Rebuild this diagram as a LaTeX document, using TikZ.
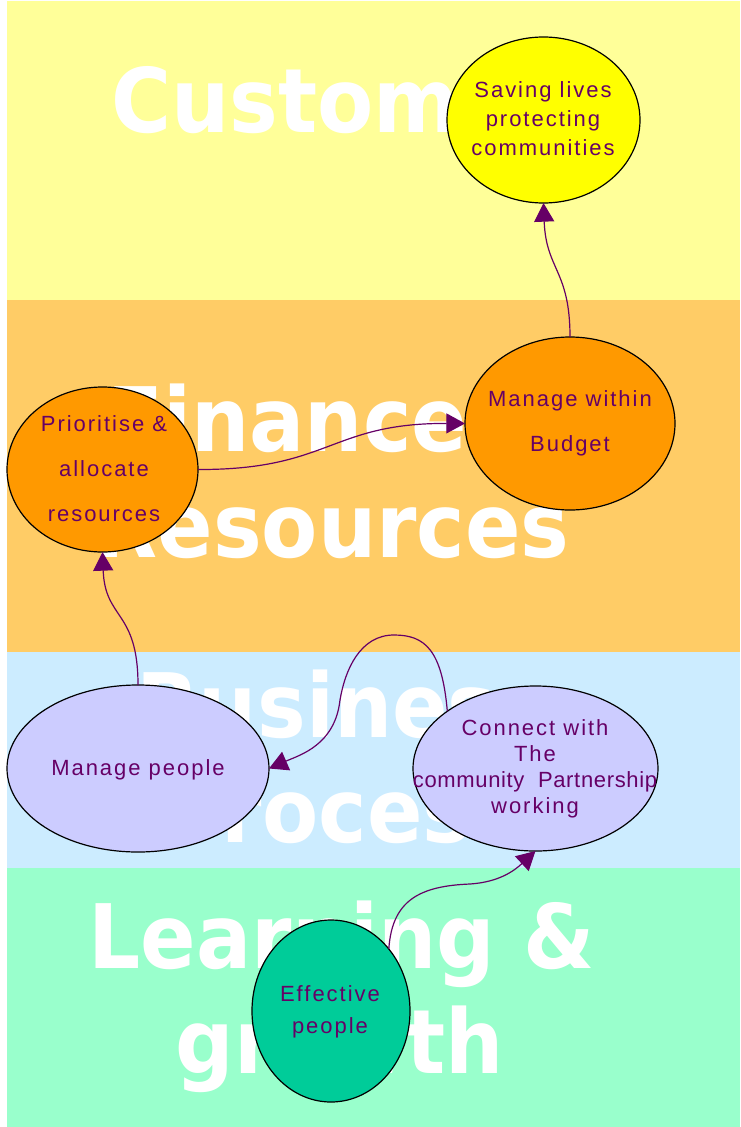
\documentclass[tikz,border=0pt]{standalone}
\usepackage{fontspec}
\usetikzlibrary{shapes.geometric,arrows.meta}
\newfontfamily\bigfont[FakeStretch=0.92]{DejaVu Sans}
\newfontfamily\smfont[LetterSpace=9]{Liberation Sans}
\definecolor{bandY}{HTML}{FFFF99}
\definecolor{bandO}{HTML}{FFCC66}
\definecolor{bandB}{HTML}{CCECFF}
\definecolor{bandG}{HTML}{99FFCC}
\definecolor{fillY}{HTML}{FFFF00}
\definecolor{fillO}{HTML}{FF9900}
\definecolor{fillB}{HTML}{CCCCFF}
\definecolor{fillG}{HTML}{00CC99}
\definecolor{purp}{HTML}{660066}
\tikzset{
  bigword/.style={font=\bigfont\bfseries\fontsize{66.75}{80}\selectfont, text=white, inner sep=0},
  bubble/.style={ellipse, draw=black, line width=0.9pt, inner sep=0, outer sep=0},
  lbl/.style={font=\smfont\fontsize{16.5}{#1}\selectfont, text=purp, align=center, inner sep=0},
  link/.style={draw=purp, line width=0.9pt, -{Triangle[length=14pt,width=15pt]}},
}
\begin{document}
\begin{tikzpicture}[x=0.75pt,y=-0.75pt]
\useasboundingbox (0,0) rectangle (740,1127);
\fill[white] (0,0) rectangle (740,1127);
% bands
\fill[bandY] (7,1.5) rectangle (740,300);
\fill[bandO] (7,300) rectangle (740,652);
\fill[bandB] (7,652) rectangle (740,868);
\fill[bandG] (7,868) rectangle (740,1127);
% background words
\node[bigword, anchor=base west] (wCust) at (111,133) {Customer};
\node[bigword, anchor=base west] (wFin) at (107,451) {Finance};
\node[bigword, anchor=base east] (wRes) at (570,557) {Resources};
\node[bigword, anchor=base] (wBus) at (341,737) {Business};
\node[bigword, anchor=base] (wProc) at (341,842) {Process};
\node[bigword, anchor=base] (wLearn) at (342,968) {Learning \&};
\node[bigword, anchor=base] (wGrow) at (340,1073) {growth};
% bubbles
\node[bubble, fill=fillY, minimum width=144.75pt, minimum height=124.5pt] (save) at (543.5,120) {};
\node[bubble, fill=fillO, minimum width=143.25pt, minimum height=123.75pt] (prio) at (102.5,469.5) {};
\node[bubble, fill=fillO, minimum width=157.5pt, minimum height=129.75pt] (budg) at (570,423.5) {};
\node[bubble, fill=fillB, minimum width=196.5pt, minimum height=125.25pt] (mpeo) at (138,768.5) {};
\node[bubble, fill=fillB, minimum width=183.75pt, minimum height=123.75pt] (conn) at (535.5,768.5) {};
\node[bubble, fill=fillG, minimum width=118.5pt, minimum height=136.5pt] (effp) at (331,1011) {};
% labels
\node[lbl=21.75pt] (tsave) at (543,119) {Saving lives\\protecting\\communities};
\node[lbl=33.75pt] (tprio) at (104,469) {Prioritise \&\\allocate\\resources};
\node[lbl=33.75pt] (tbudg) at (570,423.5) {Manage within\\Budget};
\node[lbl=20pt] (tmpeo) at (138,770) {Manage people};
\node[lbl=19.5pt] (tconn) at (535,769) {Connect with\\The\\{\addfontfeature{LetterSpace=3}community\ \ Partnership}\\working};
\node[lbl=24pt] (teffp) at (330,1012) {Effective\\people};
% connectors
\draw[link] (budg.north) .. controls (570,270) and (546,270) .. (save.south);
\draw[link] (prio.east) .. controls (330,470) and (330,423) .. (budg.west);
\draw[link] (mpeo.north) .. controls (138,610) and (105,620) .. (prio.south);
\draw[link] (conn.147) .. controls (442,650) and (425,635) .. (394,635)
   .. controls (360,635) and (345,670) .. (340,700)
   .. controls (335,745) and (300,755) .. (mpeo.east);
\draw[link] (effp.47) .. controls (392,900) and (420,886) .. (470,884)
   .. controls (500,882) and (515,870) .. (conn.south);
\end{tikzpicture}
\end{document}
